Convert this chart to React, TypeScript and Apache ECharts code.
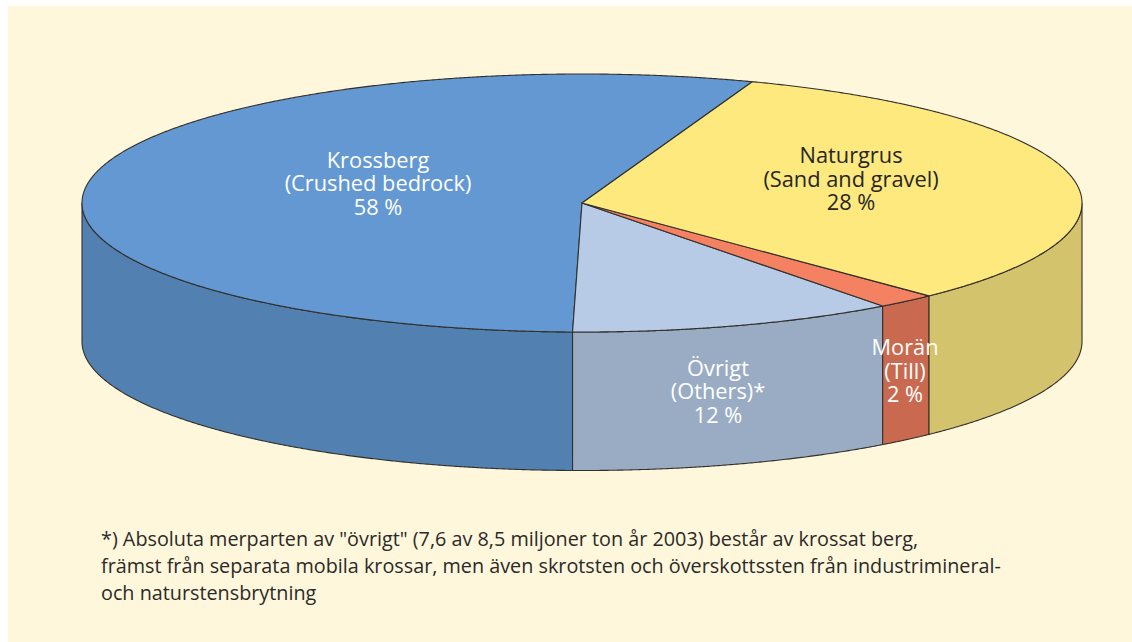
import React, { useEffect, useRef } from "react";
import * as echarts from "echarts";

// Slices, in counter-clockwise drawing order.
const categories = ["Krossberg", "Övrigt", "Morän", "Naturgrus"];
const englishNames = ["(Crushed bedrock)", "(Others)*", "(Till)", "(Sand and gravel)"];
const statedPercent = ["58 %", "12 %", "2 %", "28 %"];
// Share of the full turn each slice occupies as drawn in the picture.
const drawnShare = [55.23, 10.57, 1.94, 32.26];
const footnoteLines = [
  '*) Absoluta merparten av "övrigt" (7,6 av 8,5 miljoner ton år 2003) består av krossat berg,',
  "främst från separata mobila krossar, men även skrotsten och överskottssten från industrimineral-",
  "och naturstensbrytning",
];

const topColors = ["#6498d2", "#b7cbe7", "#f58163", "#fee97f"];
const wallColors = ["#5180b1", "#9aacc4", "#c96a50", "#d3c36d"];
const labelColors = ["#ffffff", "#ffffff", "#ffffff", "#262626"];
const labelX = [378, 718, 905, 851];
const labelY = [182.5, 390.5, 370, 178];

const FONT = "'Open Sans', sans-serif";
const CX = 582;
const CY = 203;
const RX = 500;
const RY = 129;
const DEPTH = 138.5;
const START = 70.09;
const OUTLINE = "#33302c";

const rad = (d: number) => (d * Math.PI) / 180;
const rim = (t: number, dy = 0): number[] => [
  CX + RX * Math.cos(rad(t)),
  CY - RY * Math.sin(rad(t)) + dy,
];
const arc = (a: number, b: number, dy = 0): number[][] => {
  const pts: number[][] = [];
  const n = Math.max(2, Math.ceil(Math.abs(b - a) * 4));
  for (let i = 0; i <= n; i++) pts.push(rim(a + ((b - a) * i) / n, dy));
  return pts;
};

export default function App() {
  const ref = useRef<HTMLDivElement>(null);
  useEffect(() => {
    document.body.style.margin = "0";
    const chart = echarts.init(ref.current!, undefined, { renderer: "svg" });
    const total = drawnShare.reduce((s, v) => s + v, 0);
    const starts: number[] = [];
    drawnShare.reduce((acc, v) => {
      starts.push(acc);
      return acc + (v / total) * 360;
    }, START);

    const renderSlice = (params: any, api: any) => {
      const i = params.dataIndex;
      const a = starts[i];
      const b = a + (api.value(1) / total) * 360;
      const children: any[] = [];
      // front wall: only the part of the rim that lies in the lower half
      for (const [lo, hi] of [[180, 360], [540, 720]]) {
        const s = Math.max(a, lo);
        const e = Math.min(b, hi);
        if (e > s) {
          children.push({
            type: "polygon",
            shape: { points: [...arc(s, e), ...arc(e, s, DEPTH)] },
            style: { fill: wallColors[i], stroke: OUTLINE, lineWidth: 1.1, lineJoin: "round" },
          });
        }
      }
      children.push({
        type: "polygon",
        shape: { points: [[CX, CY], ...arc(a, b)] },
        style: { fill: topColors[i], stroke: OUTLINE, lineWidth: 1.1, lineJoin: "round" },
      });
      return { type: "group", children };
    };

    const renderLabel = (params: any) => {
      const i = params.dataIndex;
      return {
        type: "text",
        x: labelX[i],
        y: labelY[i],
        style: {
          text: `${categories[i]}\n${englishNames[i]}\n${statedPercent[i]}`,
          fill: labelColors[i],
          font: `21.8px ${FONT}`,
          lineHeight: 23.5,
          align: "center",
          verticalAlign: "middle",
        },
      };
    };

    const rows = categories.map((c, i) => [c, drawnShare[i]]);
    chart.setOption({
      animation: false,
      backgroundColor: "#ffffff",
      graphic: [
        {
          type: "rect",
          z: -1,
          shape: { x: 8, y: 6, width: 1124, height: 636 },
          style: { fill: "#fef7dc" },
        },
        ...footnoteLines.map((t, i) => ({
          type: "text",
          x: 101,
          y: 538 + i * 27.3,
          style: { text: t, fill: "#2b2a28", font: `19.8px ${FONT}`, verticalAlign: "middle" },
        })),
      ],
      series: [
        { type: "custom", coordinateSystem: "none", renderItem: renderSlice, data: rows, z: 2, silent: true },
        { type: "custom", coordinateSystem: "none", renderItem: renderLabel, data: rows, z: 3, silent: true },
      ],
    });
    return () => chart.dispose();
  }, []);
  return <div ref={ref} style={{ position: "absolute", left: 0, top: 0, width: 1132, height: 642 }} />;
}
